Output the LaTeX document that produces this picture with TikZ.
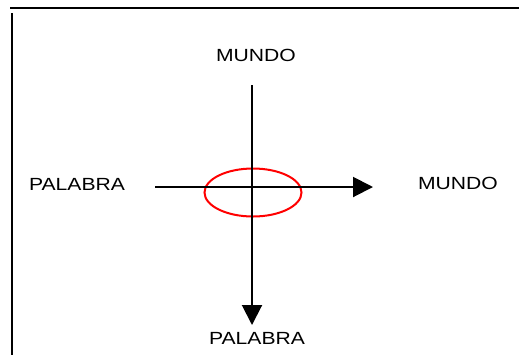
\documentclass[tikz,border=0pt]{standalone}
\usepackage{fontspec}
\setmainfont[FakeStretch=1.2]{Liberation Sans}
\usetikzlibrary{arrows.meta}
\tikzset{
    label/.style={font=\fontsize{13.2}{16}\selectfont, inner sep=0pt},
    axis/.style={line width=1.5pt, -{Triangle[length=15pt, width=15pt]}}
}
\begin{document}
\begin{tikzpicture}[x=0.75pt, y=-0.75pt]
    \useasboundingbox (0,0) rectangle (527,355);
    \draw[line width=1.7pt] (10,8) -- (519,8);
    \draw[line width=1.7pt] (12,13) -- (12,355);
    \node[label] (mundoarriba) at (256,55) {MUNDO};
    \node[label] (palabraizq) at (77,184.5) {PALABRA};
    \node[label] (mundoder) at (458,183) {MUNDO};
    \node[label] (palabraabajo) at (257,338) {PALABRA};
    \coordinate (hini) at (155,187);
    \coordinate (hfin) at (373,187);
    \coordinate (vini) at (252,85);
    \coordinate (vfin) at (252,325);
    \draw[red, line width=1.5pt] (253,192.5) ellipse (48.5 and 24);
    \draw[axis] (hini) -- (hfin);
    \draw[axis] (vini) -- (vfin);
\end{tikzpicture}
\end{document}
